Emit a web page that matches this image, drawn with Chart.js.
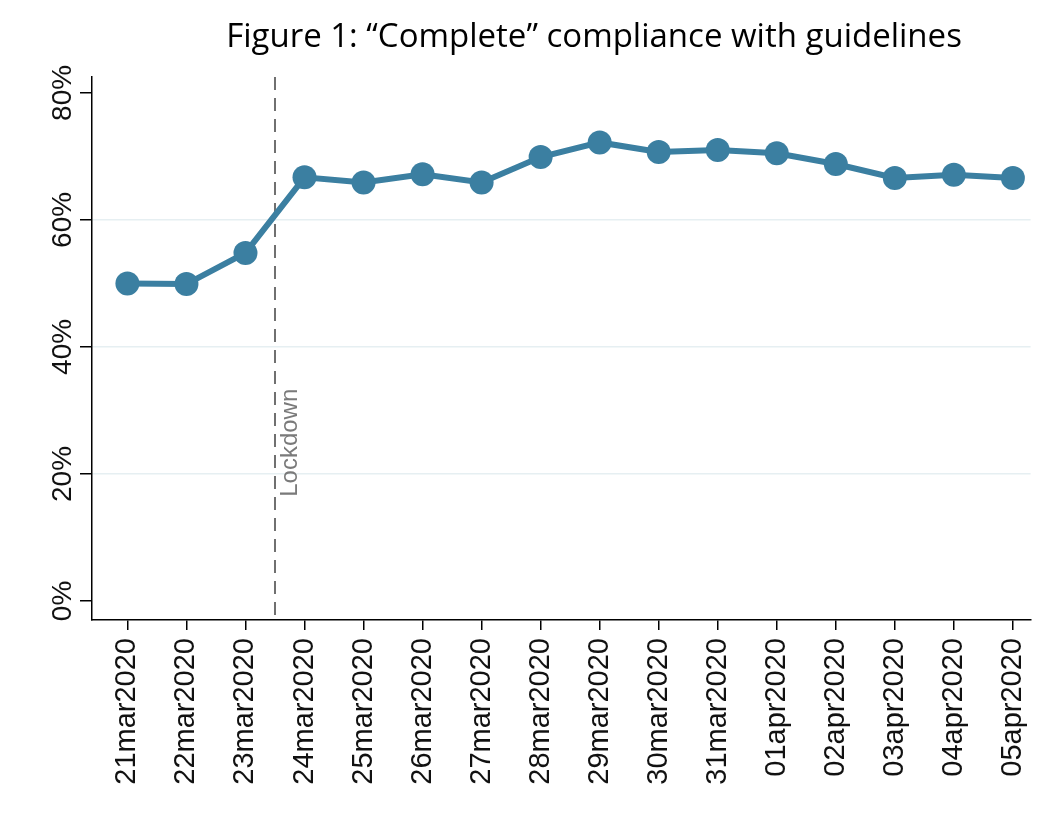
<!DOCTYPE html>
<html lang="en">
<head>
<meta charset="UTF-8">
<title>Complete compliance with guidelines</title>
<script src="https://cdn.jsdelivr.net/npm/chart.js"></script>
<style>
  html, body { margin: 0; padding: 0; background: #fff; }
  #wrap { width: 1056px; height: 832px; position: relative; }
</style>
</head>
<body>
<div id="wrap"><canvas id="chart"></canvas></div>
<script>
// data
const dates = ['21mar2020', '22mar2020', '23mar2020', '24mar2020', '25mar2020', '26mar2020',
  '27mar2020', '28mar2020', '29mar2020', '30mar2020', '31mar2020', '01apr2020',
  '02apr2020', '03apr2020', '04apr2020', '05apr2020'];
const compliance = [50.0, 49.9, 54.8, 66.7, 65.9, 67.2, 65.9, 69.9,
  72.2, 70.7, 71.0, 70.5, 68.8, 66.6, 67.1, 66.6];
const yTicks = [0, 20, 40, 60, 80];
const gridAt = [20, 40, 60];
const lockdownAt = 2.5;
const lockdownLabel = 'Lockdown';
const titleText = 'Figure 1: \u201CComplete\u201D compliance with guidelines';

const blue = '#3b7fa1';

const extras = {
  id: 'extras',
  beforeDatasetsDraw(chart) {
    const { ctx, chartArea, scales } = chart;
    const x = scales.x.getPixelForValue(lockdownAt);
    ctx.save();
    ctx.strokeStyle = '#707070';
    ctx.lineWidth = 2;
    ctx.setLineDash([13, 8]);
    ctx.beginPath();
    ctx.moveTo(x, chartArea.top);
    ctx.lineTo(x, chartArea.bottom);
    ctx.stroke();
    ctx.setLineDash([]);
    // line label, rotated
    ctx.translate(x + 22, scales.y.getPixelForValue(16.4));
    ctx.rotate(-Math.PI / 2);
    ctx.fillStyle = '#7a7a7a';
    ctx.font = '24px "Liberation Sans", Arial, sans-serif';
    ctx.textAlign = 'left';
    ctx.textBaseline = 'alphabetic';
    ctx.fillText(lockdownLabel, 0, 0);
    ctx.restore();
  },
  afterDraw(chart) {
    const { ctx, scales } = chart;
    ctx.save();
    // vertical y tick labels
    ctx.fillStyle = '#111';
    ctx.font = '28px "Liberation Sans", Arial, sans-serif';
    ctx.textAlign = 'center';
    ctx.textBaseline = 'alphabetic';
    yTicks.forEach(v => {
      const y = scales.y.getPixelForValue(v);
      ctx.save();
      ctx.translate(71, y);
      ctx.rotate(-Math.PI / 2);
      ctx.fillText(v + '%', 0, 0);
      ctx.restore();
    });
    // title
    ctx.fillStyle = '#000';
    ctx.font = '33px "Open Sans", sans-serif';
    ctx.textAlign = 'center';
    ctx.textBaseline = 'alphabetic';
    ctx.fillText(titleText, 594, 47);
    ctx.restore();
  }
};

new Chart(document.getElementById('chart'), {
  type: 'line',
  data: {
    datasets: [{
      data: compliance.map((v, i) => ({ x: i, y: v })),
      borderColor: blue,
      backgroundColor: blue,
      borderWidth: 6,
      pointRadius: 12,
      pointBorderWidth: 0,
      pointBackgroundColor: blue,
      tension: 0
    }]
  },
  options: {
    responsive: true,
    maintainAspectRatio: false,
    animation: false,
    layout: { padding: { left: 0, right: 17, top: 77, bottom: 0 } },
    plugins: {
      legend: { display: false },
      tooltip: { enabled: false }
    },
    scales: {
      x: {
        type: 'linear',
        min: -0.6,
        max: 15.3,
        afterBuildTicks: s => { s.ticks = dates.map((d, i) => ({ value: i })); },
        afterFit: s => { s.height = 212; },
        border: { color: '#000', width: 1.5 },
        grid: { drawOnChartArea: false, tickLength: 10, tickColor: '#000', lineWidth: 1.5 },
        ticks: {
          autoSkip: false,
          minRotation: 90,
          maxRotation: 90,
          padding: 8,
          color: '#111',
          font: { family: '"Liberation Sans", Arial, sans-serif', size: 29 },
          callback: v => dates[v]
        }
      },
      y: {
        min: -3,
        max: 82.5,
        afterBuildTicks: s => { s.ticks = yTicks.map(v => ({ value: v })); },
        afterFit: s => { s.width = 92; },
        border: { color: '#000', width: 1.5 },
        grid: {
          tickLength: 12,
          tickColor: '#000',
          lineWidth: 1.5,
          color: c => (c.tick && gridAt.includes(c.tick.value)) ? '#e6eff2' : 'rgba(0,0,0,0)'
        },
        ticks: { callback: () => '' }
      }
    }
  },
  plugins: [extras]
});
</script>
</body>
</html>
